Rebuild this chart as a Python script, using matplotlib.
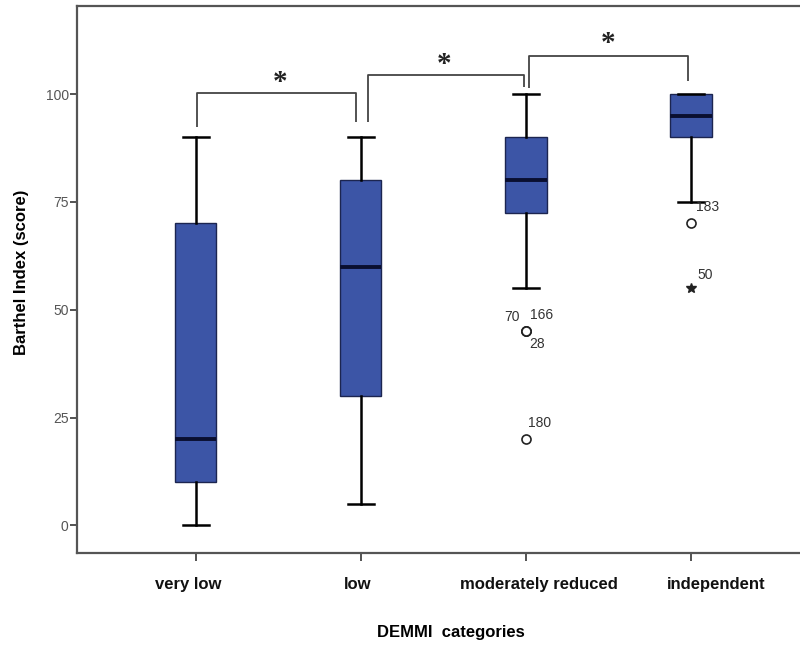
# Barthel Index by DEMMI category - SPSS style boxplot

import matplotlib
matplotlib.use("Agg")
import matplotlib.pyplot as plt
from matplotlib.transforms import blended_transform_factory

# data
categories = ["very low", "low", "moderately reduced", "independent"]
whisker_low = [0, 5, 55, 75]
q1 = [10, 30, 72.5, 90]
median = [20, 60, 80, 95]
q3 = [70, 80, 90, 100]
whisker_high = [90, 90, 100, 100]

# outliers (circles) and extremes (stars), with case ids
outlier_group = [3, 3, 3, 3, 4]
outlier_value = [45, 45, 45, 20, 70]
outlier_id = ["70", "166", "28", "180", "183"]
extreme_group = [4]
extreme_value = [55]
extreme_id = ["50"]

plt.rcParams['font.family'] = ['Liberation Sans', 'DejaVu Sans']

fig = plt.figure(figsize=(8, 6.45), dpi=100)
ax = fig.add_axes([77 / 800, 92 / 645, 723 / 800, 547 / 645])

positions = [1, 2, 3, 4]
stats = []
for i in range(len(categories)):
    stats.append(dict(whislo=whisker_low[i], q1=q1[i], med=median[i],
                      q3=q3[i], whishi=whisker_high[i], fliers=[]))

ax.bxp(stats, positions=positions, widths=0.25, patch_artist=True,
       showfliers=False,
       boxprops=dict(facecolor='#3C55A6', edgecolor='#1c2550', linewidth=1.0),
       medianprops=dict(color='#0a0f30', linewidth=2.8),
       whiskerprops=dict(color='black', linewidth=1.8),
       capprops=dict(color='black', linewidth=1.8),
       capwidths=0.155)

# outlier circles
ax.plot(outlier_group, outlier_value, linestyle='none', marker='o',
        markersize=6.5, markerfacecolor='white', markeredgecolor='#222222',
        markeredgewidth=1.2, zorder=4)
ax.plot(extreme_group, extreme_value, linestyle='none', marker='*',
        markersize=7, color='#222222', zorder=4)

# case labels, pixel offsets from the point
id_offsets = {"70": (-14, 14), "166": (16, 16), "28": (11, -13),
              "180": (14, 16), "183": (17, 16)}
for g, v, lab in zip(outlier_group, outlier_value, outlier_id):
    dx, dy = id_offsets[lab]
    ax.annotate(lab, (g, v), xytext=(dx * 0.72, dy * 0.72),
                textcoords='offset points', ha='center', va='center',
                fontsize=10, color='#333333')
for g, v, lab in zip(extreme_group, extreme_value, extreme_id):
    ax.annotate(lab, (g, v), xytext=(14 * 0.72, 13 * 0.72),
                textcoords='offset points', ha='center', va='center',
                fontsize=10, color='#333333')

# significance brackets
brackets = [
    (1.006, 1.971, 100.3, 92.4, 93.6, 1.51, 102.6),
    (2.042, 2.990, 104.3, 93.6, 101.6, 2.505, 106.9),
    (3.016, 3.979, 108.7, 101.3, 103.0, 3.50, 111.7),
]
for x0, x1, ytop, yl, yr, xs, ys in brackets:
    ax.plot([x0, x0, x1, x1], [yl, ytop, ytop, yr], color='#444444',
            linewidth=1.3, solid_capstyle='butt', clip_on=False)
    ax.text(xs, ys, "*", fontsize=21, family='Liberation Serif',
            fontweight='bold', ha='center', va='center', color='#222222')

ax.set_xlim(0.281, 4.66)
ax.set_ylim(-6.4, 120.4)
ax.set_yticks([0, 25, 50, 75, 100])
ax.set_xticks(positions)
ax.set_xticklabels([])

# category labels, placed slightly off the tick as in the original
label_shift = [-8, -3, 13, 25]
trans = blended_transform_factory(ax.transData, fig.transFigure)
for pos, name, dx in zip(positions, categories, label_shift):
    ax.text(pos + dx / 165, 1 - 589 / 645, name, transform=trans,
            ha='center', va='baseline', fontsize=12, fontweight='bold',
            color='#111111', clip_on=False)

ax.tick_params(axis='y', labelsize=10, labelcolor='#555555', length=5,
               width=1.3, color='#444444', pad=1)
ax.tick_params(axis='x', length=6, width=1.3, color='#444444')

for side in ['left', 'top', 'bottom']:
    ax.spines[side].set_color('#555555')
    ax.spines[side].set_linewidth(1.6)
ax.spines['right'].set_visible(False)

fig.text(22 / 800, 1 - 272 / 645, "Barthel Index (score)", rotation=90,
         ha='center', va='center', fontsize=12, fontweight='bold')
fig.text(451 / 800, 1 - 633 / 645, "DEMMI  categories", ha='center',
         va='center', fontsize=12, fontweight='bold')

fig.savefig("out.png", dpi=100)
